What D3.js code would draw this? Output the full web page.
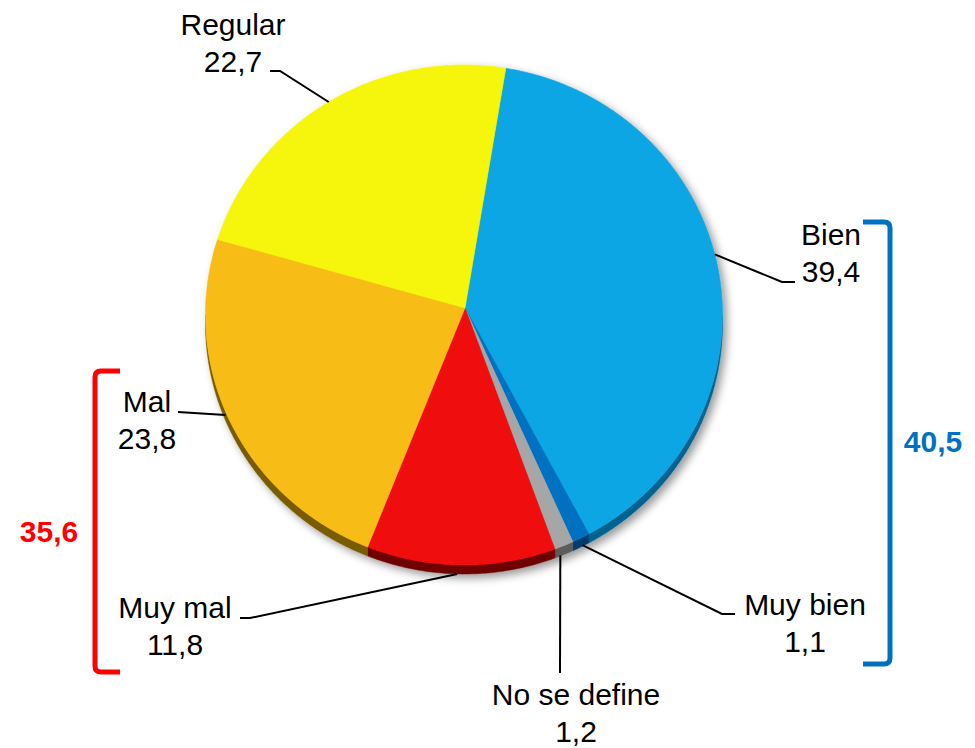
<!DOCTYPE html>
<html>
<head>
<meta charset="utf-8">
<script src="https://cdn.jsdelivr.net/npm/d3@7"></script>
<style>
  html, body { margin: 0; padding: 0; background: #ffffff; }
  svg { display: block; font-family: "Liberation Sans", Arial, sans-serif; }
</style>
</head>
<body>
<svg id="chart" width="975" height="748"></svg>
<script>
// ---- data ----
const categories = ["Bien", "Muy bien", "No se define", "Muy mal", "Mal", "Regular"];
const values     = [39.4, 1.1, 1.2, 11.8, 23.8, 22.7];
const topColors  = ["#0AA6E4", "#0070C0", "#A6A6A6", "#F00808", "#F7BC12", "#F6F608"];
const sideColors = ["#05628E", "#003E6C", "#5C5C5C", "#6E0000", "#7A5C00", "#7A7A00"];
const groupRed   = ["Mal", "Muy mal"];
const groupBlue  = ["Bien", "Muy bien"];

// ---- layout ----
const svg = d3.select("#chart");
const cx = 464, cy = 315, rx = 258.5, ry = 250, depth = 9;
const apex = [465, 308];
const startDeg = 9.3;

const es = d3.formatLocale({decimal: ",", thousands: ".", grouping: [3], currency: ["", "€"]});
const fmt = es.format(".1f");

const pie = d3.pie().sort(null).value(d => d)
  .startAngle(startDeg * Math.PI / 180)
  .endAngle(startDeg * Math.PI / 180 + 2 * Math.PI);
const arcs = pie(values);

function pt(a) { return [cx + rx * Math.sin(a), cy - ry * Math.cos(a)]; }
function samples(a0, a1) {
  const n = Math.max(2, Math.ceil((a1 - a0) / 0.01));
  return d3.range(n + 1).map(i => a0 + (a1 - a0) * i / n);
}

const defs = svg.append("defs");
const f = defs.append("filter").attr("id", "shadow")
  .attr("x", "-10%").attr("y", "-10%").attr("width", "120%").attr("height", "120%");
f.append("feDropShadow").attr("dx", 4).attr("dy", 4).attr("stdDeviation", 4)
  .attr("flood-color", "#000").attr("flood-opacity", 0.4);

const pieG = svg.append("g").attr("filter", "url(#shadow)");

// side (rim) of the front half
arcs.forEach((d, i) => {
  const a0 = Math.max(d.startAngle, Math.PI / 2);
  const a1 = Math.min(d.endAngle, 3 * Math.PI / 2);
  if (a1 <= a0) return;
  const s = samples(a0, a1);
  const p = d3.path();
  s.forEach((a, k) => { const q = pt(a); k ? p.lineTo(q[0], q[1]) : p.moveTo(q[0], q[1]); });
  s.slice().reverse().forEach(a => { const q = pt(a); p.lineTo(q[0], q[1] + depth); });
  p.closePath();
  pieG.append("path").attr("d", p.toString()).attr("fill", sideColors[i])
    .attr("stroke", sideColors[i]).attr("stroke-width", 0.5);
});

// top faces
arcs.forEach((d, i) => {
  const p = d3.path();
  p.moveTo(apex[0], apex[1]);
  samples(d.startAngle, d.endAngle).forEach(a => { const q = pt(a); p.lineTo(q[0], q[1]); });
  p.closePath();
  pieG.append("path").attr("d", p.toString()).attr("fill", topColors[i])
    .attr("stroke", topColors[i]).attr("stroke-width", 0.6).attr("stroke-linejoin", "round");
});

// ---- labels ----
const labelLayout = {
  "Regular":      {x: 233, y: 35,  start: [270, 71],  elbow: [280, 71],  aim: 0.5},
  "Bien":         {x: 831, y: 245, start: [795, 282], elbow: [782, 282], aim: 0.47},
  "Muy bien":     {x: 805, y: 615, start: [735, 614], elbow: [722, 614], aim: 0.4},
  "No se define": {x: 576, y: 705, start: [560, 673], elbow: [560, 673], aim: 0.7},
  "Muy mal":      {x: 175, y: 618, start: [240, 618], elbow: [250, 618], aim: 0.52},
  "Mal":          {x: 147, y: 412, start: [178, 412], elbow: [178, 412], aim: 0.53}
};
const lineGap = 36.5;

arcs.forEach((d, i) => {
  const name = categories[i];
  const L = labelLayout[name];
  const a = d.startAngle + (d.endAngle - d.startAngle) * L.aim;
  const q = pt(a);
  const yEnd = q[1] + depth * Math.max(0, -Math.cos(a));
  svg.append("polyline")
    .attr("points", [L.start, L.elbow, [q[0], yEnd]].map(p => p.join(",")).join(" "))
    .attr("fill", "none").attr("stroke", "#000").attr("stroke-width", 2);
  const t = svg.append("text").attr("text-anchor", "middle")
    .attr("font-size", 30).attr("fill", "#000");
  t.append("tspan").attr("x", L.x).attr("y", L.y).text(name);
  t.append("tspan").attr("x", L.x).attr("y", L.y + lineGap).text(fmt(values[i]));
});

// ---- brackets ----
function groupSum(names) { return d3.sum(names, n => values[categories.indexOf(n)]); }

function bracket(x0, xv, y0, y1, color) {
  const r = 6, dir = Math.sign(x0 - xv);
  const p = d3.path();
  p.moveTo(x0, y0);
  p.lineTo(xv + dir * r, y0);
  p.quadraticCurveTo(xv, y0, xv, y0 + r);
  p.lineTo(xv, y1 - r);
  p.quadraticCurveTo(xv, y1, xv + dir * r, y1);
  p.lineTo(x0, y1);
  svg.append("path").attr("d", p.toString()).attr("fill", "none")
    .attr("stroke", color).attr("stroke-width", 5);
}
bracket(120, 95, 371, 672, "#FF0000");
bracket(863, 890, 222, 664, "#0070C0");

svg.append("text").attr("x", 49).attr("y", 542).attr("text-anchor", "middle")
  .attr("font-size", 30).attr("font-weight", "bold").attr("fill", "#FF0000")
  .text(fmt(groupSum(groupRed)));
svg.append("text").attr("x", 933).attr("y", 452).attr("text-anchor", "middle")
  .attr("font-size", 30).attr("font-weight", "bold").attr("fill", "#0070C0")
  .text(fmt(groupSum(groupBlue)));
</script>
</body>
</html>
